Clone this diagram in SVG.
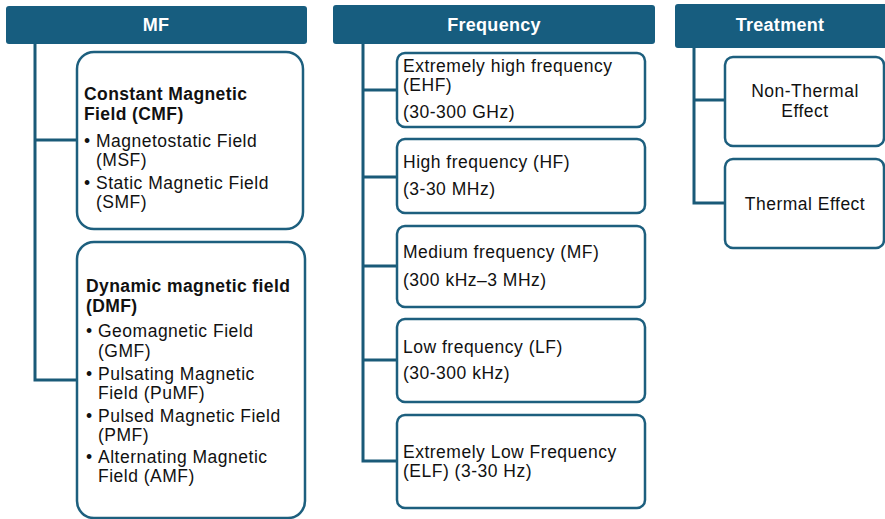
<svg xmlns="http://www.w3.org/2000/svg" width="885" height="519" viewBox="0 0 885 519">
<style>
.hdr{fill:#175d7f}
.ht{font-family:"Liberation Sans",Arial,sans-serif;font-weight:bold;font-size:18px;letter-spacing:0.3px;fill:#ffffff;text-anchor:middle}
.box{fill:#ffffff;stroke:#1d5f7e;stroke-width:2.5}
.t{font-family:"Liberation Sans",Arial,sans-serif;font-size:17.5px;letter-spacing:0.5px;fill:#111111}
.b{font-weight:bold;letter-spacing:0.4px}
.c{text-anchor:middle}
.con{fill:none;stroke:#1a5a78;stroke-width:3}
</style>
<rect width="885" height="519" fill="#ffffff"/>
<g id="connectors">
<path class="con" d="M35 44 V380 H77 M35 140 H77"/>
<path class="con" d="M363 44 V461 H397 M363 90 H397 M363 177 H397 M363 266 H397 M363 360 H397"/>
<path class="con" d="M694 48 V203 H725 M694 100 H725"/>
</g>
<g id="mf-header"><rect class="hdr" x="6" y="6" width="301" height="38" rx="3"/><text class="ht" x="156" y="31">MF</text></g>
<g id="frequency-header"><rect class="hdr" x="333" y="5" width="322" height="39" rx="3"/><text class="ht" x="494" y="31">Frequency</text></g>
<g id="treatment-header"><rect class="hdr" x="675" y="4" width="212" height="44" rx="3"/><text class="ht" x="780" y="31">Treatment</text></g>
<g id="cmf">
<rect class="box" x="77" y="52" width="226" height="177" rx="17"/>
<text class="t b" x="84" y="100">Constant Magnetic</text>
<text class="t b" x="84" y="120">Field (CMF)</text>
<text class="t" x="84" y="147">•</text><text class="t" x="96" y="147">Magnetostatic Field</text>
<text class="t" x="96" y="166">(MSF)</text>
<text class="t" x="84" y="189">•</text><text class="t" x="96" y="189">Static Magnetic Field</text>
<text class="t" x="96" y="208">(SMF)</text>
</g>
<g id="dmf">
<rect class="box" x="77" y="242" width="228" height="276" rx="17"/>
<text class="t b" x="86" y="292">Dynamic magnetic field</text>
<text class="t b" x="86" y="312">(DMF)</text>
<text class="t" x="86" y="337">•</text><text class="t" x="98" y="337">Geomagnetic Field</text>
<text class="t" x="98" y="357">(GMF)</text>
<text class="t" x="86" y="380">•</text><text class="t" x="98" y="380">Pulsating Magnetic</text>
<text class="t" x="98" y="399">Field (PuMF)</text>
<text class="t" x="86" y="422">•</text><text class="t" x="98" y="422">Pulsed Magnetic Field</text>
<text class="t" x="98" y="441">(PMF)</text>
<text class="t" x="86" y="463">•</text><text class="t" x="98" y="463">Alternating Magnetic</text>
<text class="t" x="98" y="482">Field (AMF)</text>
</g>
<g id="ehf">
<rect class="box" x="397" y="53" width="248" height="74" rx="8"/>
<text class="t" x="403" y="72">Extremely high frequency</text>
<text class="t" x="403" y="91">(EHF)</text>
<text class="t" x="403" y="118">(30-300 GHz)</text>
</g>
<g id="hf">
<rect class="box" x="397" y="139" width="248" height="74" rx="8"/>
<text class="t" x="403" y="168">High frequency (HF)</text>
<text class="t" x="403" y="195">(3-30 MHz)</text>
</g>
<g id="mf-freq">
<rect class="box" x="397" y="226" width="248" height="81" rx="8"/>
<text class="t" x="403" y="258">Medium frequency (MF)</text>
<text class="t" x="403" y="286">(300 kHz–3 MHz)</text>
</g>
<g id="lf">
<rect class="box" x="397" y="319" width="248" height="83" rx="8"/>
<text class="t" x="403" y="353">Low frequency (LF)</text>
<text class="t" x="403" y="379">(30-300 kHz)</text>
</g>
<g id="elf">
<rect class="box" x="397" y="415" width="248" height="93" rx="8"/>
<text class="t" x="403" y="458">Extremely Low Frequency</text>
<text class="t" x="403" y="477">(ELF) (3-30 Hz)</text>
</g>
<g id="non-thermal">
<rect class="box" x="725" y="57" width="159" height="89" rx="8"/>
<text class="t c" x="805" y="97">Non-Thermal</text>
<text class="t c" x="805" y="117">Effect</text>
</g>
<g id="thermal">
<rect class="box" x="725" y="159" width="159" height="89" rx="8"/>
<text class="t c" x="805" y="210">Thermal Effect</text>
</g>
</svg>
